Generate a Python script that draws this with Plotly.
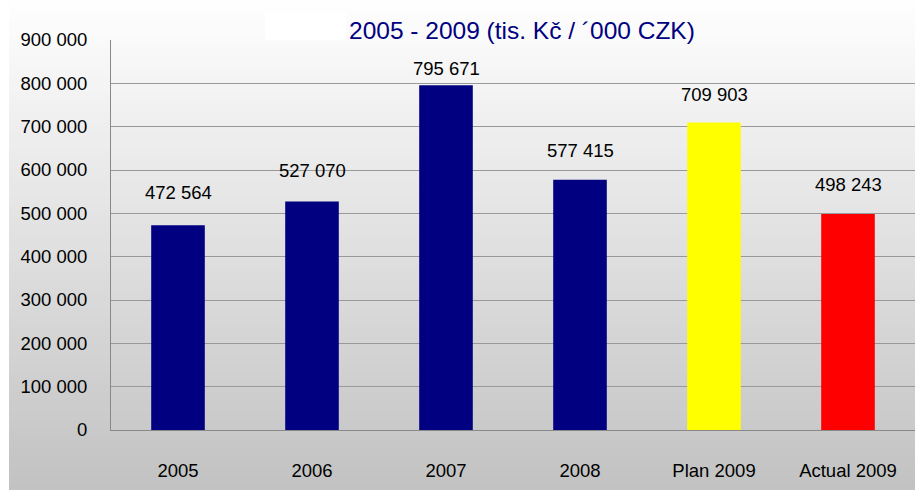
import plotly.graph_objects as go

categories = ["2005", "2006", "2007", "2008", "Plan 2009", "Actual 2009"]
values = [472564, 527070, 795671, 577415, 709903, 498243]
colors = ["#000080", "#000080", "#000080", "#000080", "#FFFF00", "#FF0000"]
tick_vals = [0, 100000, 200000, 300000, 400000, 500000, 600000, 700000, 800000, 900000]
tick_text = ["0", "100 000", "200 000", "300 000", "400 000", "500 000",
             "600 000", "700 000", "800 000", "900 000"]
title_text = "2005 - 2009 (tis. Kč / ´000 CZK)"

def fmt(v):
    return f"{v:,}".replace(",", " ")

FONT = "Liberation Sans, Arial, sans-serif"

fig = go.Figure(go.Bar(x=categories, y=values, marker=dict(color=colors, line=dict(width=0)),
                       width=0.4))

# gradient background strips
shapes = []
n = 70
top = (254, 254, 254)
bot = (194, 194, 194)
for i in range(n):
    t = i / (n - 1)
    c = tuple(round(top[k] + (bot[k] - top[k]) * t) for k in range(3))
    shapes.append(dict(type="rect", xref="paper", yref="paper", layer="below",
                       x0=-111/804 + 9/804, x1=1.01,
                       y0=1 + 40/390 - (i + 1) * (490/390) / n,
                       y1=1 + 40/390 - i * (490/390) / n,
                       fillcolor="rgb(%d,%d,%d)" % c, line=dict(width=0)))
# white blotch over title start
shapes.append(dict(type="rect", xref="paper", yref="paper", layer="above",
                   x0=(265-111)/804, x1=(346-111)/804, y0=1 + 0/390, y1=1 + 27/390,
                   fillcolor="white", line=dict(width=0)))

label_shift = [33, 31, 17, 29, 28, 30]
annotations = [dict(x=i, y=v, text=fmt(v), showarrow=False, yshift=s,
                    font=dict(size=18.5, color="black", family=FONT))
               for i, (v, s) in enumerate(zip(values, label_shift))]
annotations.append(dict(xref="paper", yref="paper", x=(347-111)/804, y=1 + 10/390,
                        xanchor="left", yanchor="middle", text=title_text, showarrow=False,
                        font=dict(size=24.5, color="#000080", family=FONT)))

fig.update_layout(
    width=915, height=490,
    margin=dict(l=111, r=0, t=40, b=60, autoexpand=False),
    paper_bgcolor="white", plot_bgcolor="rgba(0,0,0,0)",
    font=dict(family=FONT, size=18, color="black"),
    showlegend=False,
    shapes=shapes, annotations=annotations,
    bargap=0.6,
)
fig.update_xaxes(type="category", categoryorder="array", categoryarray=categories,
                 showgrid=False, showline=True, linecolor="#888888", linewidth=1,
                 ticks="", ticklabelstandoff=24, tickfont=dict(size=18.5), automargin=False)
fig.update_yaxes(range=[0, 900000], tickvals=tick_vals, ticktext=tick_text,
                 showgrid=True, gridcolor="#999999", gridwidth=1, showline=True,
                 linecolor="#888888", linewidth=1, ticks="", ticklabelstandoff=19,
                 zeroline=False, tickfont=dict(size=18.5), automargin=False)

fig.write_html("out.html", config={"displayModeBar": False},
               post_script="document.body.style.margin='0px';")
